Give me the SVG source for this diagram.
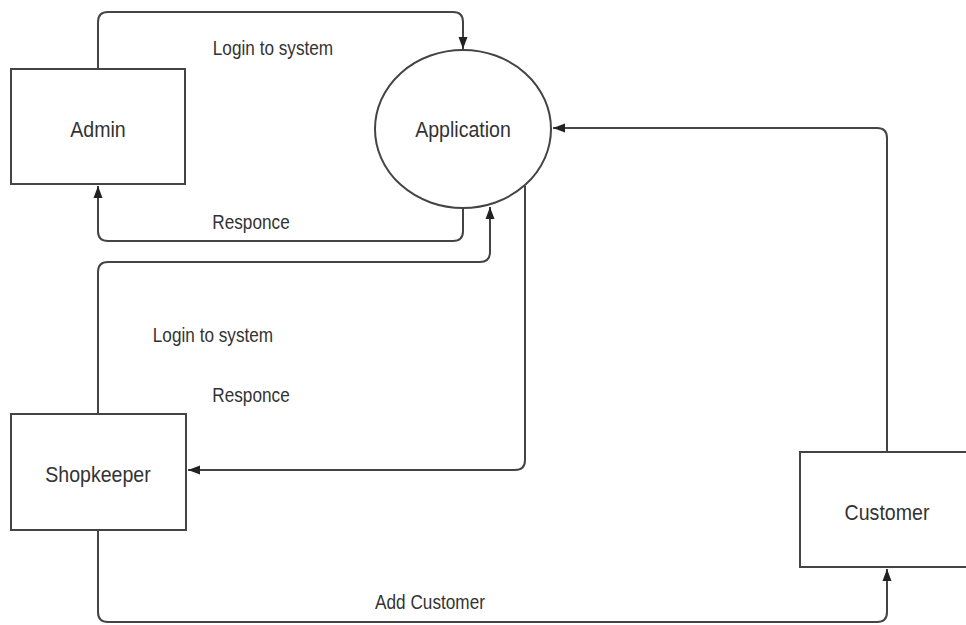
<svg xmlns="http://www.w3.org/2000/svg" width="966" height="625" viewBox="0 0 966 625">
<defs>
<marker id="arr" viewBox="0 0 12 10" refX="12" refY="5" markerWidth="12" markerHeight="10" markerUnits="userSpaceOnUse" orient="auto">
<path d="M0,0.5 L12,5 L0,9.5 Z" fill="#222"/>
</marker>
<style>
.box{fill:#fff;stroke:#444;stroke-width:2}
.lbl{font-family:"Liberation Sans",Arial,sans-serif;font-size:22px;fill:#333;text-anchor:middle;dominant-baseline:central}
.el{font-family:"Liberation Sans",Arial,sans-serif;font-size:20px;fill:#333;text-anchor:middle;dominant-baseline:central}
.c{fill:none;stroke:#444;stroke-width:2;marker-end:url(#arr)}
</style>
</defs>
<rect width="966" height="625" fill="#fff"/>
<g id="connectors">
<path class="c" d="M98,69 V22 Q98,12 108,12 H453 Q463,12 463,22 V49"/>
<path class="c" d="M463,208 V231 Q463,241 453,241 H108 Q98,241 98,231 V186"/>
<path class="c" d="M98,414 V272 Q98,262 108,262 H480 Q490,262 490,252 V207"/>
<path class="c" d="M525,186 V460 Q525,470 515,470 H188"/>
<path class="c" d="M887,452 V138 Q887,128 877,128 H553"/>
<path class="c" d="M98,530 V612 Q98,622 108,622 H877 Q887,622 887,612 V569"/>
</g>
<g id="admin">
<rect class="box" x="11" y="69" width="174" height="115"/>
<text class="lbl" transform="translate(98,129) scale(0.89,1)">Admin</text>
</g>
<g id="application">
<ellipse class="box" cx="463" cy="129" rx="88" ry="79"/>
<text class="lbl" transform="translate(463,129) scale(0.89,1)">Application</text>
</g>
<g id="shopkeeper">
<rect class="box" x="11" y="414" width="175" height="116"/>
<text class="lbl" transform="translate(98,474) scale(0.89,1)">Shopkeeper</text>
</g>
<g id="customer">
<rect class="box" x="800" y="452" width="175" height="115"/>
<text class="lbl" transform="translate(887,512) scale(0.89,1)">Customer</text>
</g>
<g id="labels">
<text class="el" transform="translate(273,48) scale(0.86,1)">Login to system</text>
<text class="el" transform="translate(251,222) scale(0.86,1)">Responce</text>
<text class="el" transform="translate(213,335) scale(0.86,1)">Login to system</text>
<text class="el" transform="translate(251,395) scale(0.86,1)">Responce</text>
<text class="el" transform="translate(430,602) scale(0.86,1)">Add Customer</text>
</g>
</svg>
